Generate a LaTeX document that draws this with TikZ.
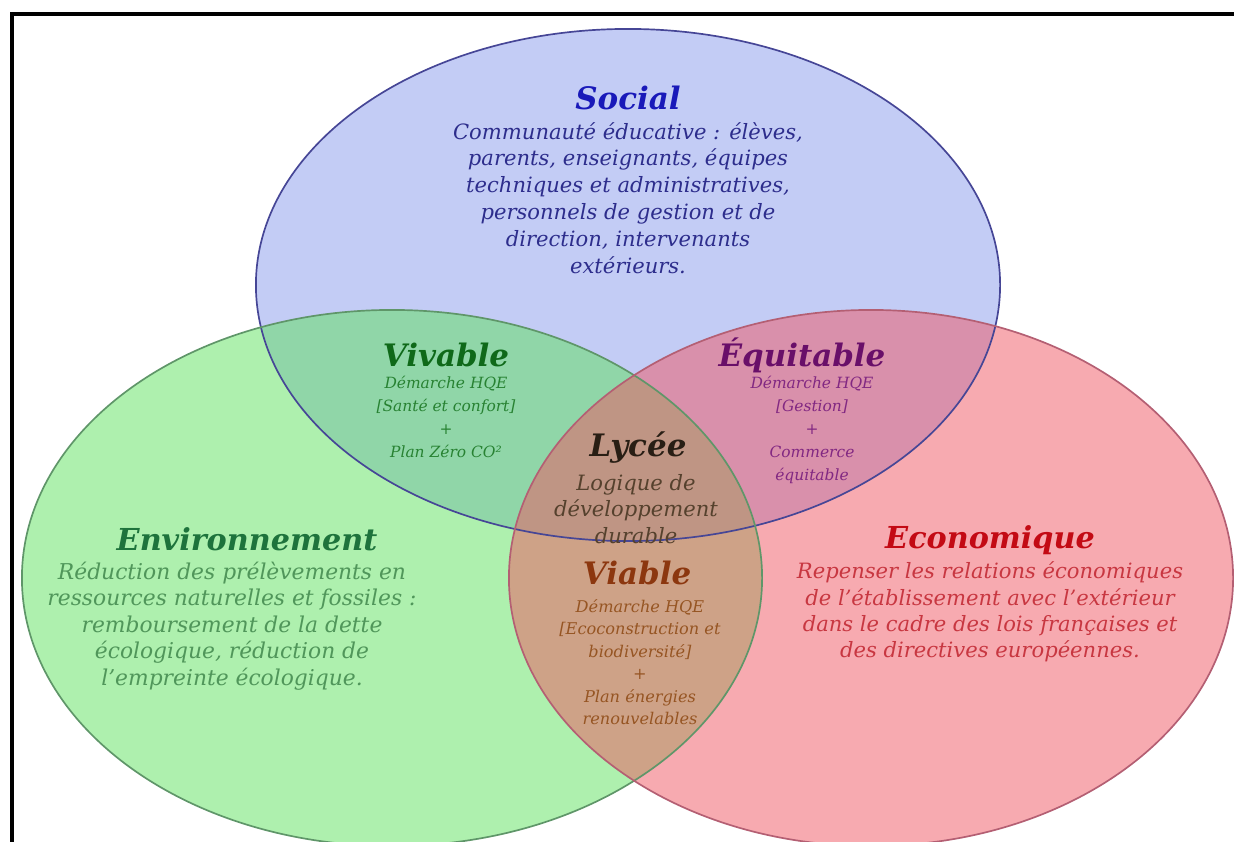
\documentclass[tikz,border=0pt]{standalone}
\usepackage{fontspec}
\setmainfont{DejaVu Serif}

\definecolor{socialfill}{RGB}{135,153,235}
\definecolor{envfill}{RGB}{93,225,93}
\definecolor{ecofill}{RGB}{239,85,97}
\definecolor{socialline}{RGB}{70,70,150}
\definecolor{envline}{RGB}{95,150,105}
\definecolor{ecoline}{RGB}{180,95,115}
\definecolor{socialtitle}{RGB}{25,25,185}
\definecolor{socialtext}{RGB}{45,45,140}
\definecolor{vivtitle}{RGB}{15,105,25}
\definecolor{vivtext}{RGB}{40,130,50}
\definecolor{equititle}{RGB}{105,15,105}
\definecolor{equitext}{RGB}{130,40,130}
\definecolor{lyctitle}{RGB}{40,30,20}
\definecolor{lyctext}{RGB}{85,65,45}
\definecolor{envtitle}{RGB}{30,115,60}
\definecolor{envtext}{RGB}{80,150,90}
\definecolor{viatitle}{RGB}{140,55,15}
\definecolor{viatext}{RGB}{150,85,35}
\definecolor{ecotitle}{RGB}{195,10,20}
\definecolor{ecotext}{RGB}{200,55,65}

\tikzset{
  pillar/.style={font=\bfseries\itshape\fontsize{21.5}{26}\selectfont, inner sep=0pt},
  overlap/.style={font=\bfseries\itshape\fontsize{22}{26}\selectfont, inner sep=0pt},
  bigtext/.style={align=center, inner sep=0pt, font=\itshape\fontsize{15}{18.8}\selectfont},
  smalltext/.style={align=center, inner sep=0pt, font=\itshape\fontsize{11}{16.3}\selectfont},
}

\begin{document}
\begin{tikzpicture}[x=0.025cm, y=-0.025cm]
  \useasboundingbox (0,0) rectangle (1234,841);

  % the three circles
  \fill[socialfill, fill opacity=0.5] (628,285) ellipse [x radius=9.3cm, y radius=6.4cm];
  \fill[envfill, fill opacity=0.5] (392,578) ellipse [x radius=9.25cm, y radius=6.7cm];
  \fill[ecofill, fill opacity=0.5] (871,578) ellipse [x radius=9.05cm, y radius=6.7cm];
  \draw[socialline, line width=1.2pt] (628,285) ellipse [x radius=9.3cm, y radius=6.4cm];
  \draw[envline, line width=1.2pt] (392,578) ellipse [x radius=9.25cm, y radius=6.7cm];
  \draw[ecoline, line width=1.2pt] (871,578) ellipse [x radius=9.05cm, y radius=6.7cm];

  % frame
  \draw[line width=2.2pt] (12,845) -- (12,14) -- (1240,14);

  \node[pillar, socialtitle, font=\bfseries\itshape\fontsize{22}{26}\selectfont] (social) at (628,98) {Social};
  \node[bigtext, socialtext, font=\itshape\fontsize{15}{19.1}\selectfont] (socialbody) at (628,198)
    {Communauté éducative : élèves,\\ parents, enseignants, équipes\\ techniques et administratives,\\
     personnels de gestion et de\\ direction, intervenants\\ extérieurs.};

  \node[overlap, vivtitle] (vivable) at (446,355) {Vivable};
  \node[smalltext, vivtext] (vivablebody) at (446,417)
    {Démarche HQE\\ {[}Santé et confort{]}\\ +\\ Plan Zéro CO²};

  \node[overlap, equititle] (equitable) at (802,355) {Équitable};
  \node[smalltext, equitext] (equitablebody) at (812,430)
    {Démarche HQE\\ {[}Gestion{]}\\ +\\ Commerce\\ équitable};

  \node[overlap, lyctitle] (lycee) at (638,448) {Lycée};
  \node[bigtext, lyctext, font=\itshape\fontsize{15}{19.1}\selectfont] (lyceebody) at (636,509)
    {Logique de\\ développement\\ durable};

  \node[pillar, envtitle] (environnement) at (247,539) {Environnement};
  \node[bigtext, envtext, font=\itshape\fontsize{15.5}{18.8}\selectfont] (environnementbody) at (232,626)
    {Réduction des prélèvements en\\ ressources naturelles et fossiles :\\ remboursement de la dette\\
     écologique, réduction de\\ l'empreinte écologique.};

  \node[overlap, viatitle] (viable) at (637,573) {Viable};
  \node[smalltext, viatext, font=\itshape\fontsize{11.5}{16}\selectfont] (viablebody) at (640,662)
    {Démarche HQE\\ {[}Ecoconstruction et\\ biodiversité{]}\\ +\\ Plan énergies\\ renouvelables};

  \node[pillar, ecotitle] (economique) at (990,540) {Economique};
  \node[bigtext, ecotext] (economiquebody) at (990,612)
    {Repenser les relations économiques\\ de l'établissement avec l'extérieur\\
     dans le cadre des lois françaises et\\ des directives européennes.};
\end{tikzpicture}
\end{document}
